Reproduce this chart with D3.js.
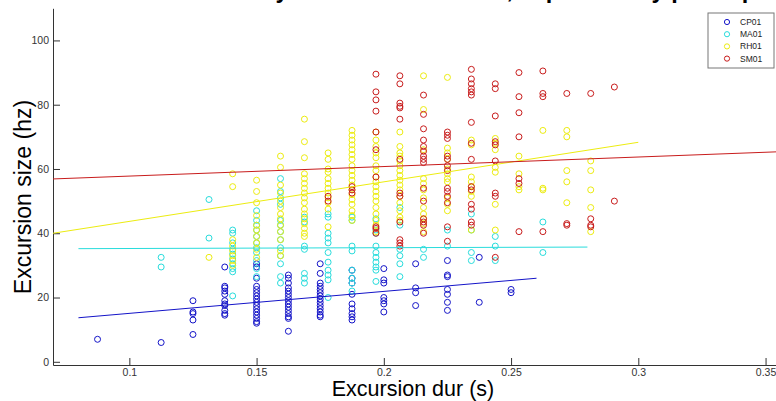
<!DOCTYPE html>
<html>
<head>
<meta charset="utf-8">
<script src="https://cdn.jsdelivr.net/npm/d3@7"></script>
<style>
  body { margin: 0; background: #fff; }
  svg { display: block; }
  .tick text { font-family: "Liberation Sans Narrow", "Arial Narrow", "Liberation Sans", sans-serif; font-size: 10.5px; fill: #333; }
</style>
</head>
<body>
<div id="chart"></div>
<script>
// excursion duration (s) columns, and the sizes (hz) measured at each one
const seriesNames = ["CP01", "MA01", "RH01", "SM01"];
const seriesColors = ["#1414c8", "#28dcdc", "#ecec10", "#c81c1c"];

const cp01Dur = [0.0875, 0.1125, 0.125, 0.1375, 0.15, 0.1625, 0.175, 0.1875, 0.2, 0.2125, 0.225, 0.2375, 0.25];
const cp01Size = [
  [7], [6], [19, 15.5, 15, 13, 8.5],
  [29.5, 23.5, 23, 22, 21, 19, 18, 17.5, 16, 15, 14.5],
  [30.5, 29.5, 26, 23.5, 22.5, 21.5, 20.5, 19.5, 18.5, 17.5, 16.5, 15.5, 14.5, 13.5, 12.5, 12],
  [27, 26, 24.5, 23, 22, 21, 20, 19, 18, 17, 16, 15, 14, 13.5, 9.5],
  [30.5, 27.5, 24.5, 23.5, 22.5, 21.5, 20.5, 19.5, 18.5, 17.5, 16.5, 15.5, 14.5, 14],
  [28.5, 26, 24.5, 21, 18, 16.5, 15, 14, 13],
  [29, 25.5, 24.5, 20, 19, 18, 15.5],
  [30.5, 23, 21.5, 17.5],
  [31.5, 27, 26.5, 22.5, 21, 18.5, 16],
  [32.5, 18.5],
  [22.5, 21.5]
];

const ma01Dur = [0.1125, 0.1313, 0.1406, 0.15, 0.1594, 0.1688, 0.1781, 0.1875, 0.1969, 0.2063, 0.2156, 0.225, 0.2344, 0.2438, 0.2625];
const ma01Size = [
  [32.5, 29.5], [50.5, 38.5],
  [41, 40, 37, 35, 33.5, 32, 30.5, 29, 28, 20.5],
  [47, 44, 42.5, 41, 39, 37, 35.5, 34, 31.5, 29, 26.5],
  [57, 53, 51, 49, 44, 42.5, 40.5, 38, 35.5, 33, 30.5, 26.5, 24.5],
  [45, 43.5, 36, 35, 27.5, 26, 24.5],
  [46, 45, 40, 38.5, 37, 34, 31, 28.5, 27, 25.5, 20],
  [45, 44, 36, 34.5, 28.5, 26, 24.5, 22],
  [44.5, 41, 40, 36, 34, 32.5, 31, 29.5, 28.5, 25],
  [48, 42.5, 35, 33, 30.5, 26.5],
  [35, 32.5], [41, 36], [46, 41, 34, 31.5], [39, 36, 31.5], [43.5, 34]
];

const rh01Dur = [0.1313, 0.1406, 0.15, 0.1594, 0.1688, 0.1781, 0.1875, 0.1969, 0.2063, 0.2156, 0.225, 0.2344, 0.2438, 0.2531, 0.2625, 0.2719, 0.2813];
const rh01Size = [
  [32.5],
  [58.5, 54.5, 38, 36, 34.5, 33, 31.5, 30],
  [56.5, 53, 49.5, 45.5, 42.5, 41, 39, 37, 35, 32.5],
  [64, 60.5, 55, 52.5, 50, 48, 46, 44.5, 42.5, 40.5, 38, 34.5, 33],
  [75.5, 68.5, 63.5, 58.5, 57, 55.5, 54, 52.5, 51, 49.5, 47.5, 46, 44.5, 43, 41.5, 40, 39],
  [65, 63, 60, 59, 57, 55.5, 54, 52.5, 51, 49.5, 47.5, 42],
  [72, 70.5, 69, 67.5, 66, 64.5, 63, 61, 59.5, 58, 56.5, 55, 53.5, 52, 50.5, 49, 47, 45.5, 44],
  [71.5, 69, 67, 65, 63.5, 61, 59.5, 57.5, 56, 54.5, 53, 51.5, 50, 48, 46, 44, 42.5, 40.5],
  [71.5, 67, 65, 64, 62.5, 61, 59.5, 58, 56.5, 55, 53.5, 51.5, 49.5, 47, 45, 44],
  [89, 78.5, 66, 57, 55.5, 53.5, 51, 48, 46, 44.5, 43, 40.5],
  [88.5, 66.5, 65, 63, 60, 58.5, 57, 56, 51, 49, 47],
  [69, 67.5, 57.5, 56, 54.5, 53, 51.5, 41],
  [69.5, 68, 66, 60.5, 59, 49, 41],
  [64, 58.5, 54.5, 53.5],
  [72, 54, 53.5],
  [72, 70, 59.5, 56, 49.5],
  [62.5, 59.5, 53.5, 48, 40.5]
];

const sm01Dur = [0.1781, 0.1875, 0.1969, 0.2063, 0.2156, 0.225, 0.2344, 0.2438, 0.2531, 0.2625, 0.2719, 0.2813, 0.2906];
const sm01Size = [
  [51.5, 50], [54.5, 53.5, 52.5],
  [89.5, 84, 81.5, 78, 71.5, 66, 57.5, 42, 41.5, 40],
  [89, 86.5, 80.5, 79.5, 79, 75.5, 63, 52.5, 51.5, 43.5, 38, 37, 36],
  [83, 77, 72.5, 69, 67, 65.5, 64, 63, 62, 54, 50, 44.5, 43.5, 42.5, 40],
  [71.5, 70.5, 69.5, 64, 63, 61, 59.5, 54, 53, 51.5, 49.5, 42, 37.5],
  [91, 88, 86.5, 85, 84, 83, 74.5, 68, 63, 54.5, 53.5, 49, 47.5, 43.5, 42.5],
  [86.5, 85, 76.5, 68.5, 67.5, 62.5, 52.5, 51.5, 32.5],
  [90, 82.5, 77.5, 70, 57, 55.5, 40.5],
  [90.5, 83.5, 82.5, 40.5],
  [83.5, 43, 42.5],
  [83.5, 44.5, 42.5, 42],
  [85.5, 50]
];

// least squares lines, start and end of each
const fitDur = [[0.08, 0.26], [0.08, 0.28], [0.07, 0.30], [0.07, 0.36]];
const fitSize = [[13.7, 26.0], [35.2, 35.7], [40.0, 68.3], [56.9, 65.5]];

const xTicks = [0.1, 0.15, 0.2, 0.25, 0.3, 0.35];
const xTickLabels = ["0.1", "0.15", "0.2", "0.25", "0.3", "0.35"];
const yTicks = [0, 20, 40, 60, 80, 100];
const yTickLabels = ["0", "20", "40", "60", "80", "100"];

const width = 776, height = 401;

const svg = d3.select("#chart").append("svg")
  .attr("width", width)
  .attr("height", height);

svg.append("rect").attr("width", width).attr("height", height).attr("fill", "#fff");

const x = d3.scaleLinear().domain([0.07, 0.36]).range([53, 791]);
const y = d3.scaleLinear().domain([-1, 110]).range([365, 8.3]);

// title, almost all of it above the picture
svg.append("text")
  .attr("x", 90)
  .attr("y", -2)
  .style("font-family", "Liberation Sans, Arial, sans-serif")
  .style("font-size", "23.5px")
  .style("font-weight", "bold")
  .text("Excursion size by excursion duration, separated by participant");

// axes
svg.append("g")
  .attr("transform", "translate(0,365)")
  .call(d3.axisBottom(x).tickValues(xTicks).tickFormat((d, i) => xTickLabels[i])
    .tickSizeInner(-7).tickSizeOuter(0).tickPadding(4));

svg.append("g")
  .attr("transform", "translate(53,0)")
  .call(d3.axisLeft(y).tickValues(yTicks).tickFormat((d, i) => yTickLabels[i])
    .tickSizeInner(-7).tickSizeOuter(0).tickPadding(4));

svg.selectAll(".domain, .tick line").attr("stroke", "#333");

svg.append("text")
  .attr("x", 413)
  .attr("y", 396)
  .attr("text-anchor", "middle")
  .style("font-family", "Liberation Sans, Arial, sans-serif")
  .style("font-size", "21.5px")
  .text("Excursion dur (s)");

svg.append("text")
  .attr("transform", "translate(31,197) rotate(-90)")
  .attr("text-anchor", "middle")
  .style("font-family", "Liberation Sans, Arial, sans-serif")
  .style("font-size", "23px")
  .text("Excursion size (hz)");

// dots
const allDur = [cp01Dur, ma01Dur, rh01Dur, sm01Dur];
const allSize = [cp01Size, ma01Size, rh01Size, sm01Size];

allDur.forEach((durs, s) => {
  const pts = [];
  durs.forEach((d, i) => allSize[s][i].forEach(v => pts.push([d, v])));
  svg.append("g").selectAll("circle")
    .data(pts)
    .enter()
    .append("circle")
    .attr("cx", d => x(d[0]))
    .attr("cy", d => y(d[1]))
    .attr("r", 3)
    .attr("fill", "none")
    .attr("stroke", seriesColors[s])
    .attr("stroke-width", 1);
});

// fit lines
fitDur.forEach((fd, s) => {
  svg.append("line")
    .attr("x1", x(fd[0])).attr("y1", y(fitSize[s][0]))
    .attr("x2", x(fd[1])).attr("y2", y(fitSize[s][1]))
    .attr("stroke", seriesColors[s])
    .attr("stroke-width", 1);
});

// legend
const legend = svg.append("g").attr("transform", "translate(708,13)");
legend.append("rect")
  .attr("width", 66).attr("height", 55)
  .attr("fill", "#fff").attr("stroke", "#777");
seriesNames.forEach((name, i) => {
  legend.append("circle")
    .attr("cx", 19).attr("cy", 9 + i * 12.2)
    .attr("r", 2.6)
    .attr("fill", "none")
    .attr("stroke", seriesColors[i]);
  legend.append("text")
    .attr("x", 32).attr("y", 12 + i * 12.2)
    .style("font-family", "Liberation Sans Narrow, Arial Narrow, sans-serif")
    .style("font-size", "8.5px")
    .style("fill", "#222")
    .text(name);
});
</script>
</body>
</html>
